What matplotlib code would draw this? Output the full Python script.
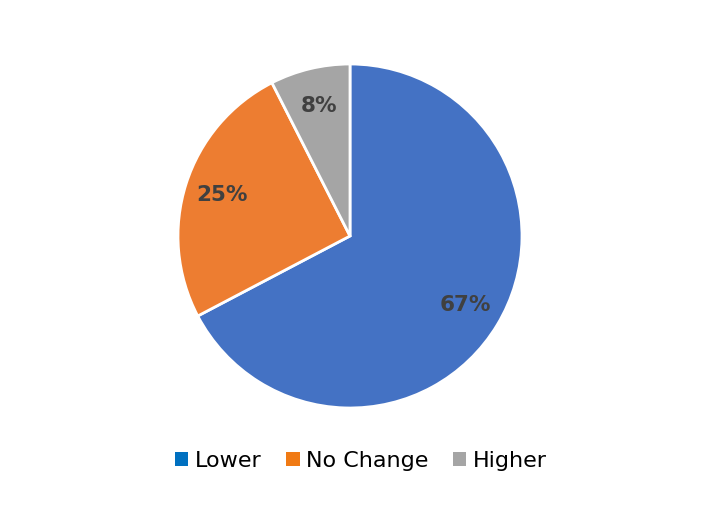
import matplotlib
matplotlib.use('Agg')
import matplotlib.pyplot as plt
from matplotlib.patches import Patch

labels = ['Lower', 'No Change', 'Higher']
shares = [67.3, 25.2, 7.5]
pie_colors = ['#4472C4', '#ED7D31', '#A5A5A5']
legend_colors = ['#0070C0', '#F07A14', '#A5A5A5']

fig = plt.figure(figsize=(7.1, 5.18), dpi=100)
ax = fig.add_axes([178 / 710, 110 / 518, 344 / 710, 344 / 518])

wedges, texts, autotexts = ax.pie(
    shares, colors=pie_colors, startangle=90, counterclock=False,
    radius=1, autopct='%.0f%%', pctdistance=0.78,
    wedgeprops={'edgecolor': 'white', 'linewidth': 2},
    textprops={'fontsize': 15.5, 'fontweight': 'bold', 'color': '#404040'})
ax.set_xlim(-1, 1)
ax.set_ylim(-1, 1)
ax.set_aspect('equal')
ax.axis('off')

handles = [Patch(facecolor=c, edgecolor='none') for c in legend_colors]
fig.legend(handles, labels, loc='center', bbox_to_anchor=(361 / 710, 1 - 461 / 518),
           ncol=3, frameon=False, fontsize=16, handlelength=0.6, handleheight=0.6,
           handletextpad=0.3, columnspacing=1.1, borderpad=0)

fig.savefig('out.png', dpi=100)
